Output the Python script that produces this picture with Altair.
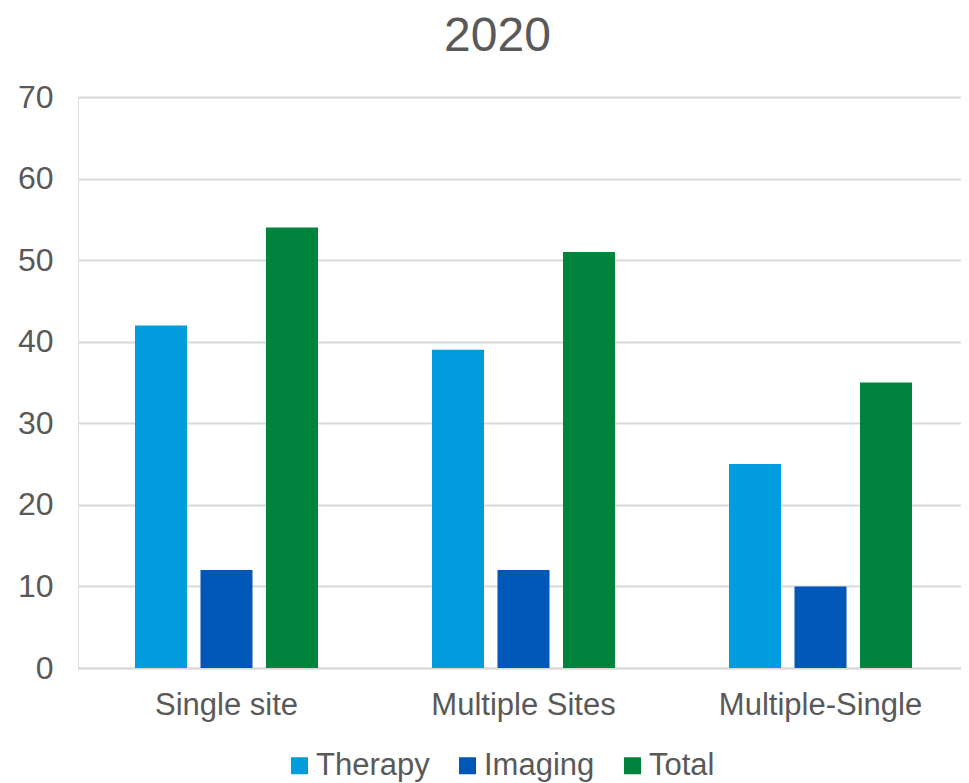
import altair as alt
import pandas as pd

categories = ["Single site", "Multiple Sites", "Multiple-Single"]
series = ["Therapy", "Imaging", "Total"]
therapy = [42, 39, 25]
imaging = [12, 12, 10]
total = [54, 51, 35]
colors = ["#009CDE", "#0057B8", "#00843D"]
y_ticks = [0, 10, 20, 30, 40, 50, 60, 70]

rows = []
for s, vals in zip(series, [therapy, imaging, total]):
    for c, v in zip(categories, vals):
        rows.append({"category": c, "series": s, "value": v})
df = pd.DataFrame(rows)

font = "Liberation Sans, Arial, sans-serif"
text_color = "#595959"
grid_color = "#D9D9D9"

chart = alt.Chart(df).mark_bar().encode(
    x=alt.X(
        "category:N",
        sort=categories,
        scale=alt.Scale(paddingInner=0, paddingOuter=0, range=[0, 891]),
        axis=alt.Axis(
            title=None, labelAngle=0, labelFontSize=31, labelColor=text_color,
            labelFont=font, ticks=False, domain=True, domainColor=grid_color,
            domainWidth=2, labelPadding=22, grid=False, labelLimit=400,
        ),
    ),
    xOffset=alt.XOffset(
        "series:N", sort=series,
        scale=alt.Scale(paddingInner=0.206, paddingOuter=0.87),
    ),
    y=alt.Y(
        "value:Q",
        scale=alt.Scale(domain=[0, 70]),
        axis=alt.Axis(
            title=None, values=y_ticks, labelFontSize=32, labelColor=text_color,
            labelFont=font, ticks=False, domain=False, grid=True,
            gridColor=grid_color, gridWidth=2, labelPadding=25,
        ),
    ),
    color=alt.Color(
        "series:N", sort=series,
        scale=alt.Scale(domain=series, range=colors),
        legend=alt.Legend(
            title=None, orient="none", direction="horizontal",
            legendX=206, legendY=653, padding=0,
            symbolType="square", symbolSize=289, symbolStrokeWidth=0,
            labelFontSize=31, labelFont=font, labelColor=text_color,
            labelOffset=1, columnPadding=22,
        ),
    ),
).properties(
    width=883,
    height=571,
    title=alt.Title(
        "2020", fontSize=48, font=font, color=text_color, fontWeight="normal",
        anchor="middle", dx=-22, offset=20,
    ),
    autosize=alt.AutoSizeParams(type="none"),
    padding={"left": 70, "top": 89, "right": 0, "bottom": 115},
).configure_view(stroke=None).configure(background="white")

chart.save("out.html", embed_options={"renderer": "svg", "actions": False})
